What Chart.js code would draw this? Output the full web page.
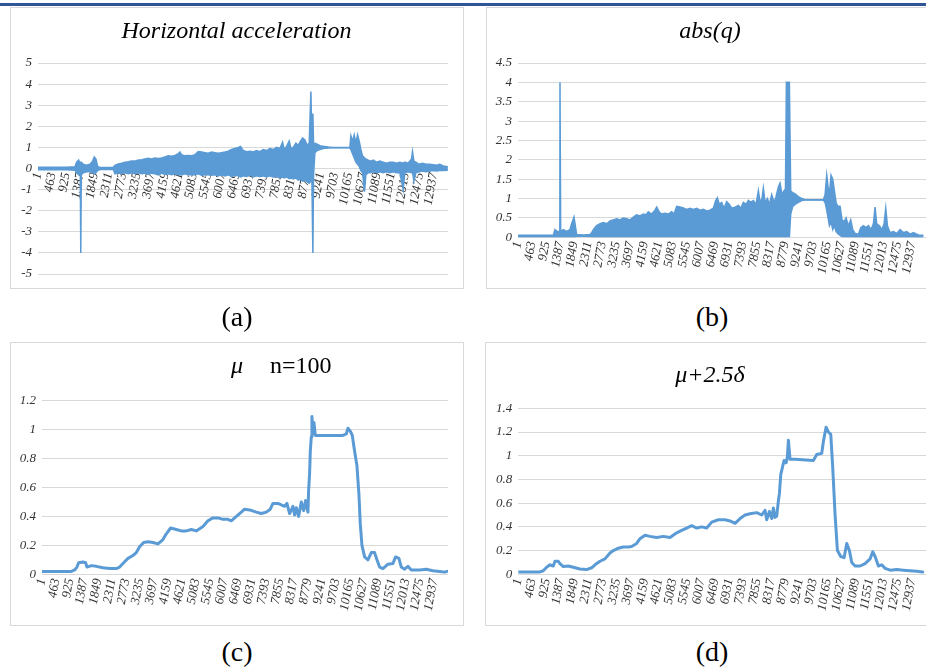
<!DOCTYPE html>
<html>
<head>
<meta charset="utf-8">
<script src="https://cdn.jsdelivr.net/npm/chart.js@4.4.1/dist/chart.umd.min.js"></script>
<style>
  body { margin: 0; background: #fff; }
  #page { position: relative; width: 926px; height: 671px; overflow: hidden; background: #fff; }
  .topbar { position: absolute; left: 0; top: 3px; width: 926px; height: 3px; background: #2f5597; }
  .box { position: absolute; border: 1px solid #d9d9d9; box-sizing: border-box; }
  canvas { position: absolute; }
  .title { position: absolute; font-family: "Liberation Serif", "Times New Roman", serif; font-size: 24px; line-height: 24px; color: #000; white-space: pre; }
  .it { font-style: italic; }
  .cap { position: absolute; width: 80px; text-align: center; font-family: "Liberation Serif", "Times New Roman", serif; font-size: 28px; line-height: 28px; color: #000; }
</style>
</head>
<body>
<div id="page">
  <div class="topbar"></div>

  <div class="box" style="left:10px;top:7px;width:454px;height:282px"></div>
  <div class="box" style="left:486px;top:7px;width:460px;height:282px"></div>
  <div class="box" style="left:10px;top:342px;width:454px;height:284px"></div>
  <div class="box" style="left:485px;top:342px;width:460px;height:284px"></div>

  <canvas id="chartA" width="453" height="281" style="left:10px;top:7px"></canvas>
  <canvas id="chartB" width="440" height="281" style="left:486px;top:7px"></canvas>
  <canvas id="chartC" width="453" height="283" style="left:10px;top:342px"></canvas>
  <canvas id="chartD" width="441" height="283" style="left:485px;top:342px"></canvas>

  <div class="title it" style="left:10px;width:453px;top:18px;text-align:center">Horizontal acceleration</div>
  <div class="title it" style="left:486px;width:448px;top:18px;text-align:center">abs(q)</div>
  <div class="title it" style="left:231px;top:353px">μ</div>
  <div class="title" style="left:270px;top:353px">n=100</div>
  <div class="title it" style="left:486px;width:448px;top:362px;text-align:center">μ+2.5δ</div>

  <div class="cap" style="left:197px;top:303px">(a)</div>
  <div class="cap" style="left:672px;top:303px">(b)</div>
  <div class="cap" style="left:197px;top:638px">(c)</div>
  <div class="cap" style="left:672px;top:638px">(d)</div>
</div>

<script>
// x tick labels (sample number)
const tickLabels = [1, 463, 925, 1387, 1849, 2311, 2773, 3235, 3697, 4159, 4621, 5083, 5545, 6007,
  6469, 6931, 7393, 7855, 8317, 8779, 9241, 9703, 10165, 10627, 11089, 11551, 12013, 12475, 12937];

// (a) horizontal acceleration - upper / lower envelope of the signal
const idxA = [
  1, 392, 937, 1209, 1263, 1329, 1372, 1383, 1399, 1416,
  1481, 1590, 1699, 1786, 1840, 1895, 1949, 2026, 2243, 2461,
  2516, 2624, 2733, 2842, 2951, 3060, 3169, 3278, 3387, 3496,
  3605, 3713, 3822, 3931, 4040, 4149, 4258, 4367, 4476, 4585,
  4639, 4694, 4802, 4911, 5020, 5129, 5238, 5347, 5456, 5565,
  5674, 5783, 5891, 6000, 6109, 6218, 6327, 6436, 6545, 6621,
  6708, 6817, 6926, 7035, 7144, 7253, 7362, 7471, 7579, 7688,
  7797, 7906, 7993, 8048, 8124, 8211, 8266, 8342, 8429, 8505,
  8581, 8647, 8723, 8799, 8864, 8919, 8952, 8984, 9006, 9050,
  9126, 9213, 9322, 9485, 9649, 10193, 10226, 10280, 10335, 10389,
  10444, 10498, 10553, 10607, 10672, 10716, 10792, 10868, 10955, 11064,
  11173, 11282, 11391, 11500, 11609, 11718, 11827, 11935, 11990, 12099,
  12208, 12240, 12284, 12349, 12458, 12567, 12676, 12807, 12916, 13024,
  13133, 13242, 13395];
const upperA = [
  0.06, 0.06, 0.06, 0.08, 0.3, 0.4, 0.25, 0.3, 0.3, 0.3,
  0.2, 0.15, 0.2, 0.35, 0.55, 0.45, 0.1, 0.05, 0.05, 0.06,
  0.15, 0.22, 0.25, 0.3, 0.32, 0.35, 0.35, 0.4, 0.42, 0.45,
  0.48, 0.45, 0.5, 0.48, 0.5, 0.55, 0.6, 0.58, 0.62, 0.7,
  0.78, 0.65, 0.6, 0.62, 0.6, 0.65, 0.8, 0.78, 0.75, 0.72,
  0.78, 0.75, 0.72, 0.75, 0.78, 0.82, 0.9, 0.95, 1.0, 1.05,
  0.85, 0.8, 0.82, 0.78, 0.85, 0.8, 0.9, 0.85, 0.95, 0.9,
  1.0, 0.95, 1.25, 0.9, 1.05, 1.3, 0.95, 1.0, 1.2, 1.1,
  1.3, 1.45, 1.35, 1.1, 1.2, 3.65, 1.3, 2.6, 1.2, 1.2,
  1.15, 1.08, 1.05, 1.02, 1.0, 1.0, 1.55, 1.3, 1.6, 1.2,
  1.6, 1.3, 0.9, 0.6, 0.5, 0.45, 0.4, 0.35, 0.4, 0.3,
  0.35, 0.3, 0.25, 0.3, 0.3, 0.25, 0.3, 0.25, 0.3, 0.25,
  0.45, 0.8, 0.35, 0.3, 0.2, 0.25, 0.2, 0.2, 0.18, 0.15,
  0.2, 0.12, 0.08];
const lowerA = [
  -0.06, -0.06, -0.06, -0.08, -0.2, -0.3, -0.25, -0.3, -4, -0.3,
  -0.2, -0.15, -0.15, -0.2, -0.25, -0.2, -0.1, -0.05, -0.04, -0.05,
  -0.25, -0.2, -0.25, -0.2, -0.25, -0.2, -0.25, -0.2, -0.25, -0.22,
  -0.28, -0.22, -0.25, -0.3, -0.22, -0.28, -0.25, -0.3, -0.25, -0.3,
  -0.28, -0.3, -0.25, -0.3, -0.28, -0.3, -0.25, -0.32, -0.3, -0.28,
  -0.32, -0.3, -0.35, -0.3, -0.35, -0.3, -0.38, -0.32, -0.35, -0.4,
  -0.35, -0.38, -0.3, -0.4, -0.35, -0.38, -0.35, -0.4, -0.35, -0.4,
  -0.38, -0.45, -0.4, -0.45, -0.4, -0.48, -0.45, -0.5, -0.45, -0.55,
  -0.5, -0.6, -0.55, -0.65, -0.7, -0.6, -0.5, -4, -0.3, 0.75,
  0.85, 0.9, 0.95, 0.97, 0.98, 0.98, 0.9, 0.7, 0.5, 0.3,
  0.2, 0.1, -0.1, -0.2, -1.1, -0.3, -0.2, -0.2, -0.15, -0.2,
  -0.15, -0.2, -0.15, -0.2, -0.15, -0.2, -0.2, -1, -0.2, -0.15,
  -0.2, -0.15, -0.6, -0.2, -0.15, -0.12, -0.15, -0.12, -0.1, -0.12,
  -0.1, -0.1, -0.08];

// (b) abs(q) - upper / lower envelope
const idxB = [
  1, 1161, 1215, 1292, 1358, 1380, 1402, 1489, 1599, 1708,
  1763, 1840, 1883, 1927, 2146, 2365, 2420, 2497, 2584, 2694,
  2803, 2913, 3022, 3132, 3241, 3351, 3460, 3570, 3679, 3789,
  3898, 4008, 4117, 4205, 4281, 4391, 4500, 4555, 4643, 4719,
  4829, 4938, 5048, 5125, 5212, 5322, 5431, 5541, 5650, 5760,
  5869, 5979, 6088, 6198, 6307, 6417, 6493, 6548, 6614, 6690,
  6767, 6855, 6942, 7019, 7128, 7238, 7315, 7402, 7490, 7566,
  7643, 7731, 7818, 7895, 7950, 8015, 8059, 8114, 8191, 8256,
  8333, 8410, 8475, 8552, 8607, 8672, 8738, 8782, 8815, 8913,
  8957, 9023, 9099, 9209, 9318, 9428, 10030, 10085, 10140, 10184,
  10227, 10282, 10337, 10392, 10446, 10501, 10578, 10643, 10709, 10775,
  10851, 10928, 10994, 11070, 11180, 11257, 11344, 11432, 11508, 11596,
  11673, 11727, 11782, 11870, 11957, 12023, 12078, 12133, 12220, 12330,
  12439, 12549, 12658, 12767, 12877, 12987, 13151, 13315];
const upperB = [
  0.05, 0.05, 0.2, 0.15, 0.15, 4, 0.15, 0.2, 0.15, 0.2,
  0.35, 0.52, 0.3, 0.07, 0.06, 0.07, 0.12, 0.22, 0.3, 0.35,
  0.38, 0.35, 0.42, 0.45, 0.48, 0.45, 0.5, 0.48, 0.45, 0.52,
  0.58, 0.55, 0.6, 0.58, 0.66, 0.6, 0.7, 0.78, 0.65, 0.6,
  0.62, 0.6, 0.66, 0.6, 0.8, 0.78, 0.76, 0.72, 0.75, 0.72,
  0.75, 0.7, 0.72, 0.68, 0.7, 0.75, 0.95, 1.02, 0.85, 0.9,
  0.75, 0.92, 0.85, 0.75, 0.78, 0.82, 0.75, 0.9, 0.85, 0.95,
  0.9, 0.95, 0.85, 1.2, 0.9, 1.0, 1.27, 0.9, 1.0, 0.85,
  1.1, 0.9, 1.05, 1.3, 1.4, 1.1, 1.2, 1.0, 4, 4,
  1.2, 1.15, 1.12, 1.05, 1.0, 0.97, 0.97, 1.1, 1.6, 1.3,
  1.1, 1.6, 1.5, 1.2, 0.9, 0.8, 0.8, 0.45, 0.4, 0.5,
  0.3, 0.45, 0.2, 0.1, 0.08, 0.25, 0.3, 0.25, 0.3, 0.2,
  0.35, 0.78, 0.35, 0.3, 0.2, 0.35, 0.75, 0.3, 0.12, 0.15,
  0.1, 0.2, 0.12, 0.15, 0.08, 0.12, 0.06, 0.05];
const lowerB = [
  0, 0, 0, 0, 0, 0, 0, 0, 0, 0,
  0, 0, 0, 0.03, 0.03, 0.02, 0, 0, 0, 0,
  0, 0, 0, 0, 0, 0, 0, 0, 0, 0,
  0, 0, 0, 0, 0, 0, 0, 0, 0, 0,
  0, 0, 0, 0, 0, 0, 0, 0, 0, 0,
  0, 0, 0, 0, 0, 0, 0, 0, 0, 0,
  0, 0, 0, 0, 0, 0, 0, 0, 0, 0,
  0, 0, 0, 0, 0, 0, 0, 0, 0, 0,
  0, 0, 0, 0, 0, 0, 0, 0, 0, 0,
  0.6, 0.8, 0.85, 0.9, 0.95, 0.96, 0.96, 0.9, 0.7, 0.5,
  0.3, 0.4, 0.2, 0.3, 0.15, 0.1, 0.05, 0.02, 0, 0,
  0, 0, 0, 0, 0, 0, 0, 0, 0, 0,
  0, 0, 0, 0, 0, 0, 0, 0, 0, 0,
  0, 0, 0, 0, 0, 0, 0, 0];

// (c) mu, n=100
const idxC = [
  1, 968, 1078, 1155, 1210, 1353, 1441, 1485, 1628, 1793,
  2013, 2233, 2453, 2563, 2695, 2838, 3003, 3113, 3223, 3355,
  3498, 3663, 3828, 3993, 4103, 4246, 4433, 4598, 4763, 4928,
  5093, 5313, 5478, 5643, 5808, 5973, 6138, 6248, 6358, 6523,
  6688, 6853, 7073, 7238, 7403, 7535, 7623, 7788, 7898, 8008,
  8085, 8173, 8283, 8338, 8393, 8470, 8558, 8635, 8701, 8745,
  8778, 8800, 8833, 8855, 8888, 8910, 8943, 8976, 9020, 9163,
  9933, 10043, 10098, 10175, 10241, 10318, 10395, 10461, 10505, 10560,
  10648, 10758, 10868, 10978, 11055, 11143, 11253, 11418, 11583, 11671,
  11781, 11858, 11968, 12078, 12188, 12463, 12683, 12903, 13123, 13288,
  13365];
const muC = [
  0.02, 0.02, 0.03, 0.05, 0.08, 0.085, 0.08, 0.05, 0.06, 0.055,
  0.045, 0.04, 0.04, 0.05, 0.08, 0.11, 0.13, 0.15, 0.19, 0.22,
  0.225, 0.22, 0.21, 0.24, 0.28, 0.32, 0.31, 0.3, 0.3, 0.31,
  0.3, 0.33, 0.37, 0.39, 0.39, 0.38, 0.38, 0.37, 0.39, 0.42,
  0.45, 0.445, 0.43, 0.42, 0.43, 0.45, 0.49, 0.49, 0.48, 0.47,
  0.49, 0.42, 0.47, 0.41, 0.46, 0.4, 0.5, 0.44, 0.51, 0.46,
  0.43, 0.58, 0.7, 0.85, 0.95, 1.09, 0.97, 1.05, 0.96, 0.96,
  0.96, 0.97, 1.01, 0.99, 0.96, 0.85, 0.75, 0.55, 0.35, 0.2,
  0.12, 0.1, 0.15, 0.15, 0.1, 0.05, 0.04, 0.07, 0.075, 0.12,
  0.11, 0.05, 0.035, 0.055, 0.03, 0.03, 0.035, 0.025, 0.02, 0.015,
  0.02];

// (d) mu + 2.5 delta
const idxD = [
  1, 712, 822, 932, 1041, 1151, 1206, 1315, 1370, 1480,
  1644, 1808, 2028, 2247, 2411, 2521, 2685, 2850, 3014, 3124,
  3288, 3452, 3617, 3726, 3891, 4000, 4165, 4329, 4548, 4768,
  4987, 5206, 5370, 5535, 5699, 5864, 6028, 6192, 6357, 6576,
  6795, 6960, 7124, 7288, 7453, 7617, 7836, 8001, 8110, 8165,
  8253, 8330, 8384, 8439, 8494, 8549, 8582, 8626, 8680, 8735,
  8801, 8845, 8878, 8932, 9097, 9700, 9809, 9974, 10028, 10116,
  10193, 10270, 10335, 10412, 10489, 10598, 10708, 10796, 10883, 10960,
  11070, 11234, 11398, 11563, 11650, 11727, 11837, 11946, 12056, 12220,
  12440, 12659, 12878, 13097, 13294];
const muD = [
  0.02, 0.02, 0.03, 0.06, 0.08, 0.07, 0.11, 0.11, 0.09, 0.065,
  0.07, 0.06, 0.045, 0.04, 0.055, 0.08, 0.11, 0.13, 0.18, 0.2,
  0.22, 0.23, 0.23, 0.235, 0.26, 0.3, 0.33, 0.32, 0.31, 0.32,
  0.31, 0.35, 0.37, 0.39, 0.41, 0.39, 0.4, 0.39, 0.44, 0.46,
  0.46, 0.45, 0.43, 0.47, 0.5, 0.51, 0.52, 0.5, 0.54, 0.46,
  0.53, 0.47, 0.56, 0.48, 0.49, 0.62, 0.68, 0.84, 0.9, 0.96,
  0.94, 0.99, 1.13, 0.97, 0.97, 0.96, 1.01, 1.02, 1.12, 1.24,
  1.2, 1.18, 0.9, 0.5, 0.2, 0.15, 0.14, 0.26, 0.2, 0.1,
  0.07, 0.07, 0.09, 0.13, 0.19, 0.15, 0.07, 0.08, 0.05, 0.035,
  0.04, 0.035, 0.03, 0.025, 0.02];

const blue = '#5b9bd5';
const tickFont = { family: 'Liberation Serif', style: 'italic', size: 13 };
const tickColor = '#333333';

function pts(xs, ys) {
  return xs.map((x, i) => ({ x: x, y: ys[i] }));
}

function xAxis(position, height) {
  return {
    type: 'linear',
    position: position,
    min: 1,
    max: 13400,
    grid: { display: false, drawTicks: false },
    border: { display: false },
    afterBuildTicks: s => { s.ticks = tickLabels.map(v => ({ value: v })); },
    afterFit: s => { s.height = height; s.paddingLeft = 0; s.paddingRight = 0; },
    ticks: {
      autoSkip: false, minRotation: 80, maxRotation: 80, padding: 3,
      font: tickFont, color: tickColor,
      callback: v => String(v)
    }
  };
}

function yAxis(min, max, step, width) {
  return {
    min: min,
    max: max,
    grid: { color: '#d9d9d9', drawTicks: false },
    border: { display: false },
    afterFit: s => { s.width = width; s.paddingTop = 0; s.paddingBottom = 0; },
    ticks: {
      stepSize: step, padding: 6, font: tickFont, color: tickColor,
      callback: v => String(+v.toFixed(1))
    }
  };
}

function makeChart(id, datasets, x, y, padding) {
  return new Chart(document.getElementById(id), {
    type: 'line',
    data: { datasets: datasets },
    options: {
      responsive: false,
      animation: false,
      events: [],
      devicePixelRatio: 1,
      layout: { padding: padding },
      plugins: { legend: { display: false }, tooltip: { enabled: false } },
      scales: { x: x, y: y }
    }
  });
}

function band(xs, hi, lo) {
  return [
    { data: pts(xs, hi), borderColor: blue, borderWidth: 1.5, pointRadius: 0, fill: false },
    { data: pts(xs, lo), borderColor: blue, borderWidth: 1.5, pointRadius: 0, fill: '-1', backgroundColor: blue }
  ];
}

function smooth(xs, ys) {
  return [{ data: pts(xs, ys), borderColor: blue, borderWidth: 3, pointRadius: 0, fill: false,
    borderJoinStyle: 'round', borderCapStyle: 'round' }];
}

makeChart('chartA', band(idxA, upperA, lowerA),
  xAxis({ y: 0 }, 0), yAxis(-5, 5, 1, 22),
  { left: 6, right: 15, top: 56, bottom: 14 });

makeChart('chartB', band(idxB, upperB, lowerB),
  xAxis('bottom', 50.7), yAxis(0, 4.5, 0.5, 26),
  { left: 6, right: 0, top: 56, bottom: 0 });

makeChart('chartC', smooth(idxC, muC),
  xAxis('bottom', 40.7), yAxis(0, 1.2, 0.2, 25),
  { left: 7, right: 15, top: 58.7, bottom: 10 });

makeChart('chartD', smooth(idxD, muD),
  xAxis('bottom', 40.7), yAxis(0, 1.4, 0.2, 26),
  { left: 7.3, right: 0, top: 66.3, bottom: 10 });
</script>
</body>
</html>
